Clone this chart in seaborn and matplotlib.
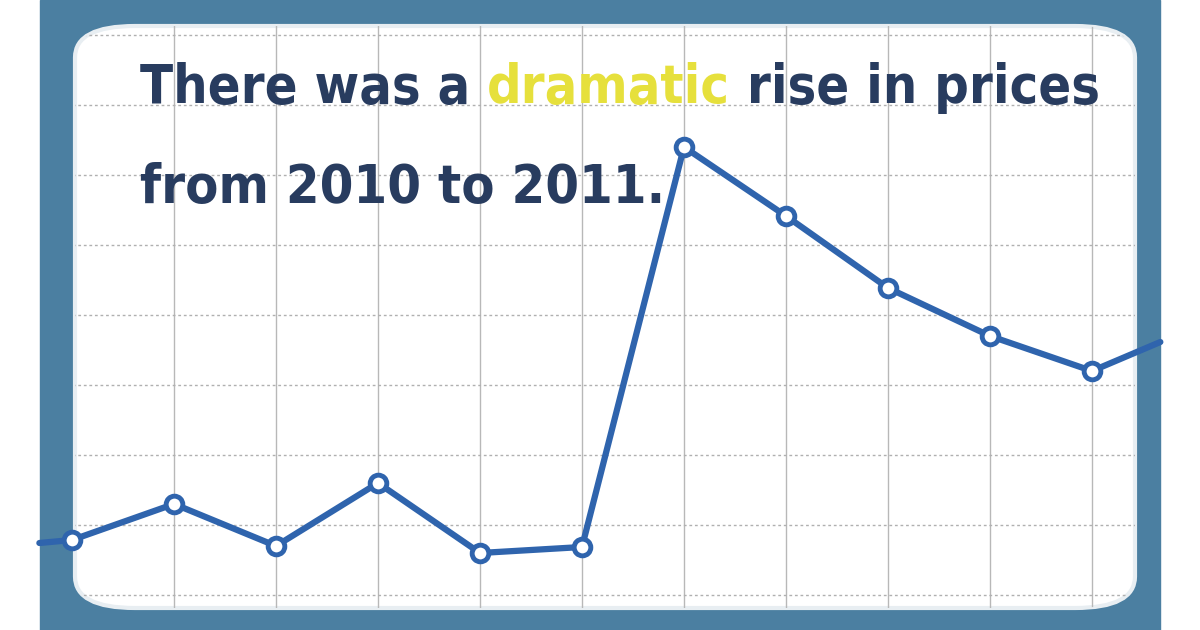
import matplotlib
matplotlib.use("Agg")
import matplotlib.pyplot as plt
import seaborn as sns
from matplotlib.patches import FancyBboxPatch, Rectangle

sns.set_theme(style="white")
plt.rcParams['font.family'] = ['DejaVu Sans']

years = [2005, 2006, 2007, 2008, 2009, 2010, 2011, 2012, 2013, 2014, 2015]
prices = [90, 126, 84, 147, 77, 83, 483, 414, 342, 294, 259]
# line runs off both edges of the panel
edge_years = [2004.68, 2015.67]
edge_prices = [87, 288]

BLUE = "#2f64ad"
NAVY = "#283c5f"

fig = plt.figure(figsize=(12, 6.3), dpi=100)
ax = fig.add_axes([0, 0, 1, 1])
ax.set_facecolor("white")
ax.add_patch(Rectangle((40/1200, 0), 1120/1200, 1, transform=fig.transFigure,
                       color="#4b7fa1", zorder=0))
panel = FancyBboxPatch((75/1200, 22/630), 1060/1200, 582/630,
                       boxstyle="round,pad=0,rounding_size=0.05",
                       transform=fig.transFigure, fc="white", ec="#e8eef2", lw=3, zorder=0.5)
ax.add_patch(panel)
ax.set_xlim(2005 - 72/102, 2005 + 1128/102)
ax.set_ylim(0, 630)
for s in ax.spines.values():
    s.set_visible(False)
ax.set_xticks([])
ax.set_yticks([])

grid = []
for yr in years:
    grid.append(ax.axvline(yr, color="#b8b8b8", lw=1, zorder=1))
for yv in range(35, 630, 70):
    grid.append(ax.axhline(yv, color="#b0b0b0", lw=1, ls=(0, (2, 2)), zorder=1))
for ln in grid:
    ln.set_clip_path(panel)

lx = [edge_years[0]] + years + [edge_years[1]]
ly = [edge_prices[0]] + prices + [edge_prices[1]]
sns.lineplot(x=lx, y=ly, ax=ax, color=BLUE, lw=4.5, zorder=3, sort=False)
ax.plot(years, prices, ls="none", marker="o", ms=12, mfc="white", mec=BLUE, mew=3.5, zorder=4)

r = fig.canvas.get_renderer()
parts = [("There was a ", NAVY), ("dramatic", "#e6e03c"), (" rise in prices", NAVY)]
kw = dict(fontweight="bold", fontstretch="condensed", va="baseline",
          transform=fig.transFigure, zorder=5)
probe = fig.text(0, 0, "".join(p for p, _ in parts), fontsize=50, **kw)
size = 50 * 960 / probe.get_window_extent(r).width
probe.remove()
x = 140/1200
for part, col in parts:
    t = fig.text(x, 1 - 103/630, part, color=col, fontsize=size, **kw)
    x += t.get_window_extent(r).width / 1200
fig.text(140/1200, 1 - 203/630, "from 2010 to 2011.", color=NAVY, fontsize=size, **kw)

fig.savefig("out.png", dpi=100)
